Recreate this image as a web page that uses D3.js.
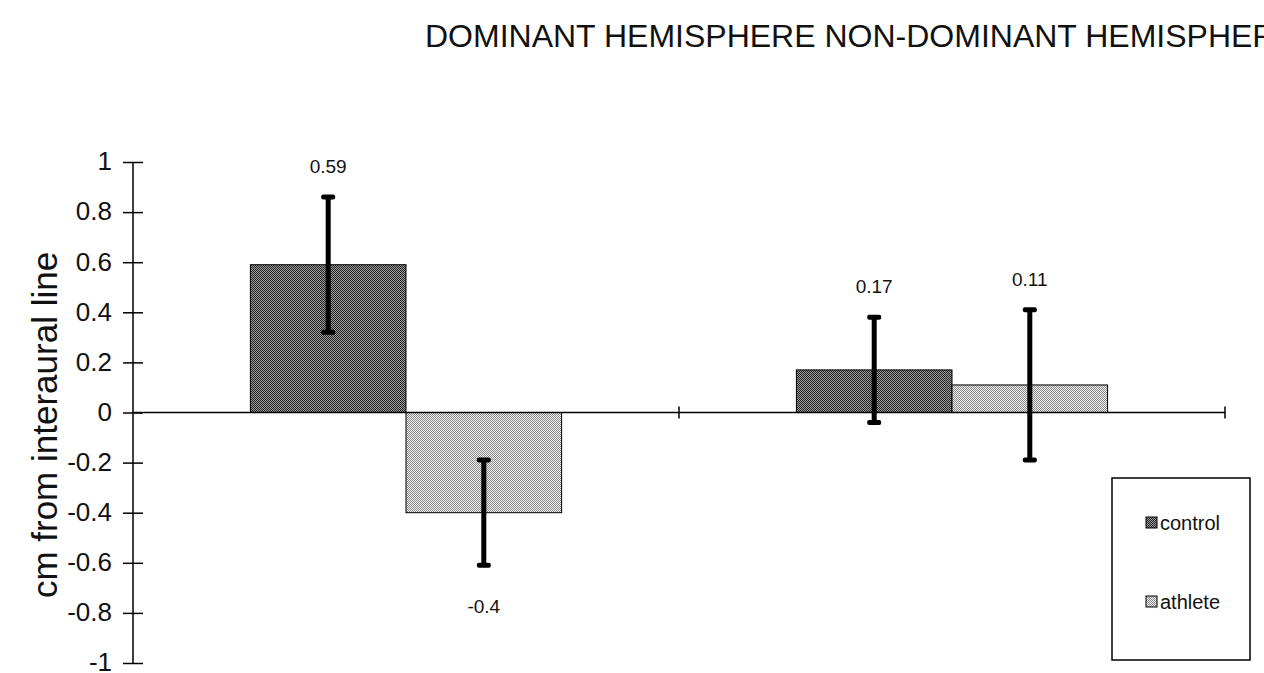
<!DOCTYPE html>
<html>
<head>
<meta charset="utf-8">
<script src="https://cdn.jsdelivr.net/npm/d3@7"></script>
<style>
  body { margin: 0; background: #fff; }
  svg { display: block; font-family: "Liberation Sans", Arial, sans-serif; }
</style>
</head>
<body>
<div id="chart"></div>
<script>
//DATA
var categories = ["DOMINANT HEMISPHERE", "NON-DOMINANT HEMISPHERE"];
var series = ["control", "athlete"];
var controlValues = [0.59, 0.17];
var athleteValues = [-0.4, 0.11];
var controlErrors = [0.27, 0.21];
var athleteErrors = [0.21, 0.30];
var yTicks = [1, 0.8, 0.6, 0.4, 0.2, 0, -0.2, -0.4, -0.6, -0.8, -1];

var width = 1264;
var height = 673;

var svg = d3.select("#chart").append("svg")
  .attr("width", width)
  .attr("height", height);

//dither-like fills
var defs = svg.append("defs");
function dither(id, dark, light) {
  var p = defs.append("pattern")
    .attr("id", id)
    .attr("width", 2).attr("height", 2)
    .attr("patternUnits", "userSpaceOnUse");
  p.append("rect").attr("width", 2).attr("height", 2).attr("fill", light);
  p.append("rect").attr("width", 1).attr("height", 1).attr("fill", dark);
  p.append("rect").attr("x", 1).attr("y", 1).attr("width", 1).attr("height", 1).attr("fill", dark);
}
dither("fill-control", "#262626", "#9a9a9a");
dither("fill-athlete", "#8a8a8a", "#f0f0f0");
var fills = { control: "url(#fill-control)", athlete: "url(#fill-athlete)" };

//scales
var y = d3.scaleLinear().domain([-1, 1]).range([663, 162]);
var x0 = d3.scaleBand().domain(categories).range([133, 1225]).padding(0);
var bw = x0.bandwidth();
var x1 = d3.scaleBand().domain(series).range([bw * 0.215, bw * 0.785]).padding(0);

var rows = [];
categories.forEach(function (cat, i) {
  rows.push({ cat: cat, s: "control", v: controlValues[i], e: controlErrors[i] });
  rows.push({ cat: cat, s: "athlete", v: athleteValues[i], e: athleteErrors[i] });
});

//title (category names along the top, clipped on the right)
svg.append("text")
  .attr("x", 425)
  .attr("y", 47)
  .attr("font-size", 32)
  .attr("fill", "#111")
  .text(categories.join(" "));

//bars
var g = svg.append("g");
g.selectAll("rect.bar").data(rows).enter().append("rect")
  .attr("class", "bar")
  .attr("x", function (d) { return x0(d.cat) + x1(d.s); })
  .attr("width", x1.bandwidth())
  .attr("y", function (d) { return y(Math.max(0, d.v)); })
  .attr("height", function (d) { return Math.abs(y(d.v) - y(0)); })
  .attr("fill", function (d) { return fills[d.s]; })
  .attr("stroke", "#000")
  .attr("stroke-width", 1);

//y axis
var yAxis = svg.append("g")
  .attr("transform", "translate(133,0)")
  .call(d3.axisLeft(y).tickValues(yTicks).tickSize(10).tickSizeOuter(0)
    .tickFormat(function (d) { return String(+d.toFixed(1)); }));
yAxis.select(".domain").attr("stroke", "#000").attr("stroke-width", 1.5)
  .attr("d", "M0," + y(1) + "V" + y(-1));
yAxis.selectAll(".tick line").attr("x1", -10).attr("x2", 10).attr("stroke", "#000").attr("stroke-width", 1.5);
yAxis.selectAll(".tick text")
  .attr("x", -21)
  .attr("dy", "0.3em")
  .attr("font-size", 26)
  .attr("font-family", "Liberation Sans, Arial, sans-serif")
  .attr("fill", "#111");

//x axis along zero
var xAxis = svg.append("g").attr("transform", "translate(0," + y(0) + ")");
xAxis.append("line")
  .attr("x1", x0.range()[0]).attr("x2", x0.range()[1])
  .attr("stroke", "#000").attr("stroke-width", 1.5);
xAxis.selectAll("line.tick").data(categories).enter().append("line")
  .attr("class", "tick")
  .attr("x1", function (d) { return x0(d) + bw; })
  .attr("x2", function (d) { return x0(d) + bw; })
  .attr("y1", -6).attr("y2", 6)
  .attr("stroke", "#000").attr("stroke-width", 1.5);

//error bars
var eb = svg.append("g").selectAll("g").data(rows).enter().append("g")
  .attr("transform", function (d) { return "translate(" + (x0(d.cat) + x1(d.s) + x1.bandwidth() / 2) + ",0)"; });
eb.append("line")
  .attr("y1", function (d) { return y(d.v + d.e); })
  .attr("y2", function (d) { return y(d.v - d.e); })
  .attr("stroke", "#000").attr("stroke-width", 5);
eb.selectAll("rect.cap").data(function (d) { return [d.v + d.e, d.v - d.e]; }).enter().append("rect")
  .attr("class", "cap")
  .attr("x", -7).attr("width", 14)
  .attr("y", function (d) { return y(d) - 2.5; }).attr("height", 5)
  .attr("rx", 2)
  .attr("fill", "#000");

//value labels
eb.append("text")
  .attr("text-anchor", "middle")
  .attr("font-size", 19)
  .attr("fill", "#111")
  .attr("y", function (d) { return d.v >= 0 ? y(d.v + d.e) - 24 : y(d.v - d.e) + 48; })
  .text(function (d) { return String(d.v); });

//y axis title
svg.append("text")
  .attr("transform", "translate(57,425) rotate(-90)")
  .attr("text-anchor", "middle")
  .attr("font-size", 35)
  .attr("fill", "#111")
  .text("cm from interaural line");

//legend
var legend = svg.append("g");
legend.append("rect")
  .attr("x", 1112).attr("y", 478).attr("width", 138).attr("height", 182)
  .attr("fill", "#fff").attr("stroke", "#000").attr("stroke-width", 1.5);
var li = legend.selectAll("g.item").data(series).enter().append("g")
  .attr("class", "item")
  .attr("transform", function (d, i) { return "translate(1146," + (523 + i * 79) + ")"; });
li.append("rect")
  .attr("x", 0).attr("y", -6).attr("width", 11).attr("height", 11)
  .attr("fill", function (d) { return fills[d]; })
  .attr("stroke", "#000").attr("stroke-width", 1);
li.append("text")
  .attr("x", 14).attr("y", 7)
  .attr("font-size", 20)
  .attr("fill", "#111")
  .text(function (d) { return d; });
</script>
</body>
</html>
